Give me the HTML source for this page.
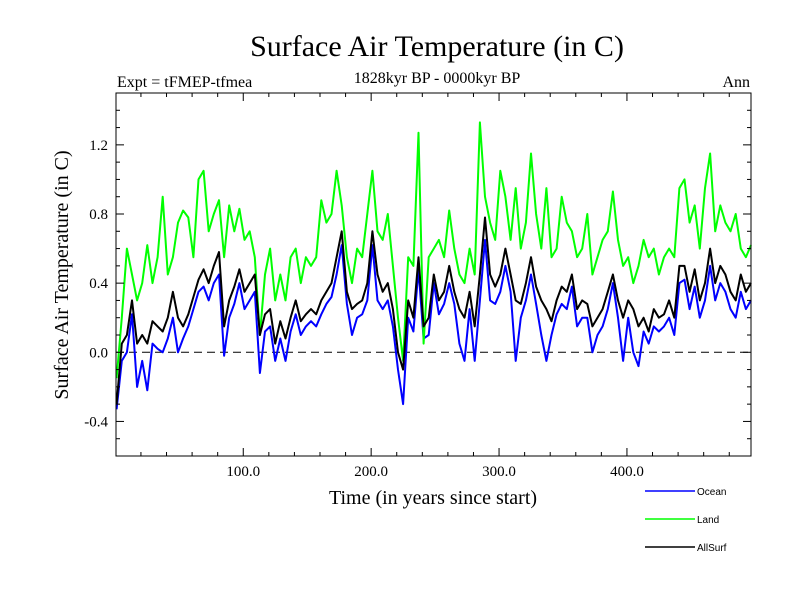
<!DOCTYPE html>
<html><head><meta charset="utf-8"><style>
body{margin:0;background:#fff;width:800px;height:600px;overflow:hidden}
svg{display:block}
.s{font-family:"Liberation Serif",serif;fill:#000}
.l{font-family:"Liberation Sans",sans-serif;fill:#000;font-size:10px}
</style></head><body>
<svg id="chart" width="800" height="600">
<text class="s" x="437" y="56" font-size="30" text-anchor="middle">Surface Air Temperature (in C)</text>
<text class="s" x="117" y="87" font-size="16">Expt = tFMEP-tfmea</text>
<text class="s" x="437" y="83" font-size="16" text-anchor="middle">1828kyr BP - 0000kyr BP</text>
<text class="s" x="750" y="87" font-size="16" text-anchor="end">Ann</text>
<text class="s" x="0" y="0" font-size="20" text-anchor="middle" transform="translate(68,275) rotate(-90)">Surface Air Temperature (in C)</text>
<text class="s" x="433" y="504" font-size="20" text-anchor="middle">Time (in years since start)</text>
<g id="plot"></g>
<g id="legend"></g>
</svg>
<script>
const yTicks=[-0.4,0.0,0.4,0.8,1.2];
const yTickLabels=["-0.4","0.0","0.4","0.8","1.2"];
const xTicks=[100,200,300,400];
const xTickLabels=["100.0","200.0","300.0","400.0"];
const seriesNames=["Ocean","Land","AllSurf"];
const seriesColors=["#0000ff","#00ff00","#000000"];
const yearStep=4;
const ocean=[-0.33,-0.05,0.0,0.22,-0.20,-0.05,-0.22,0.05,0.02,0.0,0.08,0.20,0.0,0.08,0.15,0.25,0.35,0.38,0.30,0.40,0.45,-0.02,0.20,0.28,0.40,0.25,0.30,0.35,-0.12,0.12,0.15,-0.05,0.08,-0.05,0.12,0.22,0.10,0.15,0.18,0.15,0.22,0.28,0.32,0.45,0.62,0.28,0.10,0.20,0.22,0.30,0.62,0.30,0.25,0.30,0.15,-0.10,-0.30,0.20,0.12,0.48,0.08,0.10,0.40,0.22,0.28,0.40,0.28,0.05,-0.05,0.25,-0.05,0.30,0.65,0.30,0.28,0.35,0.50,0.35,-0.05,0.20,0.30,0.45,0.28,0.10,-0.05,0.10,0.22,0.28,0.25,0.38,0.15,0.20,0.20,0.00,0.10,0.15,0.25,0.40,0.20,-0.05,0.20,0.00,-0.08,0.12,0.05,0.15,0.12,0.15,0.20,0.10,0.40,0.42,0.25,0.38,0.20,0.30,0.50,0.30,0.40,0.35,0.25,0.20,0.35,0.25,0.30];
const land=[-0.15,0.20,0.60,0.45,0.30,0.40,0.62,0.40,0.55,0.90,0.45,0.55,0.75,0.82,0.78,0.55,1.00,1.05,0.70,0.80,0.88,0.55,0.85,0.70,0.83,0.65,0.70,0.55,0.10,0.45,0.60,0.30,0.45,0.30,0.55,0.60,0.40,0.55,0.50,0.55,0.88,0.75,0.80,1.05,0.85,0.55,0.40,0.60,0.55,0.80,1.05,0.70,0.65,0.80,0.50,0.20,-0.05,0.55,0.50,1.27,0.05,0.55,0.60,0.65,0.55,0.82,0.60,0.45,0.40,0.60,0.45,1.33,0.90,0.75,0.65,1.05,0.90,0.65,0.95,0.60,0.75,1.15,0.80,0.60,0.95,0.55,0.60,0.90,0.75,0.70,0.55,0.60,0.80,0.45,0.55,0.65,0.70,0.93,0.65,0.50,0.55,0.40,0.50,0.65,0.55,0.60,0.45,0.55,0.60,0.55,0.95,1.00,0.75,0.85,0.60,0.95,1.15,0.70,0.85,0.75,0.70,0.80,0.60,0.55,0.62];
const allSurf=[-0.30,0.05,0.10,0.30,0.05,0.10,0.05,0.18,0.15,0.12,0.20,0.35,0.20,0.15,0.22,0.32,0.42,0.48,0.40,0.50,0.58,0.15,0.30,0.38,0.48,0.35,0.40,0.45,0.10,0.22,0.25,0.05,0.18,0.08,0.20,0.30,0.18,0.22,0.25,0.22,0.30,0.35,0.40,0.55,0.70,0.35,0.25,0.28,0.30,0.40,0.70,0.45,0.35,0.40,0.25,0.00,-0.10,0.30,0.20,0.55,0.15,0.20,0.45,0.30,0.35,0.50,0.35,0.25,0.20,0.35,0.15,0.45,0.78,0.45,0.38,0.45,0.60,0.45,0.30,0.28,0.40,0.55,0.38,0.30,0.25,0.18,0.30,0.38,0.35,0.45,0.25,0.30,0.28,0.15,0.20,0.25,0.35,0.45,0.30,0.20,0.30,0.25,0.15,0.20,0.12,0.25,0.20,0.22,0.30,0.20,0.50,0.50,0.35,0.48,0.30,0.40,0.60,0.40,0.50,0.45,0.35,0.30,0.45,0.35,0.40];

const NS="http://www.w3.org/2000/svg";
const L=116,R=751,T=93,B=456,X0=0.5,X1=497,Y0=-0.6,Y1=1.5;
const xs=v=>L+(v-X0)/(X1-X0)*(R-L);
const ys=v=>B-(v-Y0)/(Y1-Y0)*(B-T);
const plot=document.getElementById('plot');
function mk(tag,attrs,parent){const e=document.createElementNS(NS,tag);for(const k in attrs)e.setAttribute(k,attrs[k]);(parent||plot).appendChild(e);return e;}
// zero dashed line
const z=mk('line',{x1:L,x2:R,y1:ys(0),y2:ys(0),stroke:'#000','stroke-width':1,'stroke-dasharray':'8,5'});


// series
const all=[ocean,land,allSurf];
all.forEach((arr,si)=>{
  const pts=arr.map((v,i)=>xs(Math.max(X0,i*yearStep+1)).toFixed(1)+','+ys(v).toFixed(1)).join(' ');
  const p=mk('polyline',{points:pts,fill:'none',stroke:seriesColors[si],'stroke-width':2,'stroke-linejoin':'round'});
  
  
});
// frame
const fr=mk('rect',{x:L,y:T,width:R-L,height:B-T,fill:'none',stroke:'#000','stroke-width':1});


// y ticks minor every 0.1
for(let k=-6;k<=15;k++){const v=k/10;const y=ys(v);const maj=(k%4===0);const len=maj?8:4;
  mk('line',{x1:L,x2:L+len,y1:y,y2:y,stroke:'#000'});mk('line',{x1:R,x2:R-len,y1:y,y2:y,stroke:'#000'});}
yTicks.forEach((v,i)=>{const t=mk('text',{x:108,y:ys(v)+5,'font-size':15,'text-anchor':'end',class:'s'});t.textContent=yTickLabels[i];
  
  });
for(let v=20;v<=480;v+=20){const x=xs(v);const maj=(v%100===0);const len=maj?8:4;
  mk('line',{x1:x,x2:x,y1:B,y2:B-len,stroke:'#000'});mk('line',{x1:x,x2:x,y1:T,y2:T+len,stroke:'#000'});}
xTicks.forEach((v,i)=>{const t=mk('text',{x:xs(v),y:476,'font-size':15,'text-anchor':'middle',class:'s'});t.textContent=xTickLabels[i];
  
  });
// legend
const lg=document.getElementById('legend');
const ly=[491,519,547];
seriesNames.forEach((n,i)=>{
  const g=mk('g',{},lg);
  
  
  mk('line',{x1:645,x2:695,y1:ly[i],y2:ly[i],stroke:seriesColors[i],'stroke-width':1.5},g);
  const t=mk('text',{x:697,y:ly[i]+4,class:'l'},g);t.textContent=n;
});
</script>
</body></html>
